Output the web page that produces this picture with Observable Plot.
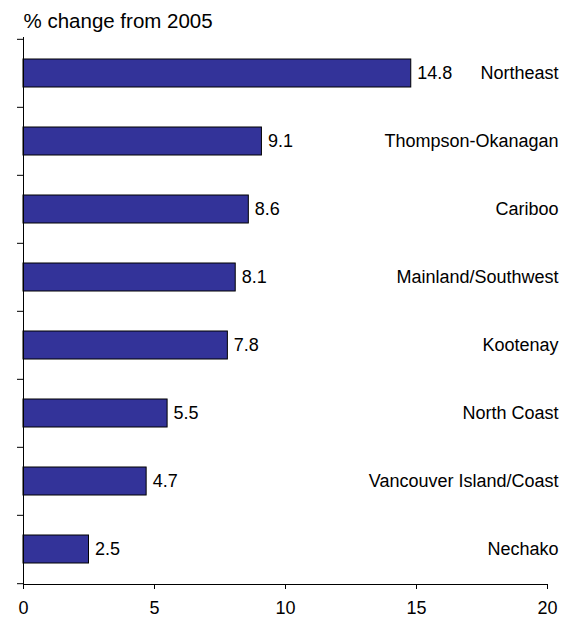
<!DOCTYPE html>
<html>
<head>
<meta charset="utf-8">
<script src="https://cdn.jsdelivr.net/npm/d3@7"></script>
<script src="https://cdn.jsdelivr.net/npm/@observablehq/plot@0.6"></script>
<style>
  html, body { margin: 0; padding: 0; background: #fff; }
</style>
</head>
<body>
<div id="chart"></div>
<script>
const regions = ["Northeast", "Thompson-Okanagan", "Cariboo", "Mainland/Southwest", "Kootenay", "North Coast", "Vancouver Island/Coast", "Nechako"];
const values = [14.8, 9.1, 8.6, 8.1, 7.8, 5.5, 4.7, 2.5];
const xTicks = [0, 5, 10, 15, 20];
const titleText = "% change from 2005";

const data = regions.map((r, i) => ({region: r, value: values[i]}));

const W = 568, H = 620, mTop = 37, mBottom = 36, mLeft = 23, mRight = 21;
const step = (H - mTop - mBottom) / regions.length;

const chart = Plot.plot({
  width: W,
  height: H,
  marginTop: mTop,
  marginBottom: mBottom,
  marginLeft: mLeft,
  marginRight: mRight,
  style: {fontFamily: "'Liberation Sans', Arial, sans-serif", fontSize: "18px", color: "#000", background: "#fff"},
  x: {domain: [0, 20], ticks: xTicks, label: null},
  y: {domain: regions, padding: 0, label: null},
  marks: [
    Plot.barX(data, {x: "value", y: "region", fill: "#333399", stroke: "#000", strokeWidth: 1, insetTop: 20, insetBottom: 20}),
    Plot.text(data, {x: "value", y: "region", text: d => d.value.toFixed(1), textAnchor: "start", dx: 6, fill: "#000", fontSize: 18}),
    Plot.text(data, {y: "region", text: "region", frameAnchor: "right", textAnchor: "end", dx: 11, fill: "#000", fontSize: 18}),
    Plot.frame({anchor: "left", stroke: "#000"}),
    Plot.frame({anchor: "bottom", stroke: "#000"}),
    Plot.axisY({tickSize: 6, tickFormat: () => "", dy: -step / 2, stroke: "#000", label: null}),
    Plot.axisY([regions[regions.length - 1]], {tickSize: 6, tickFormat: () => "", dy: step / 2, stroke: "#000", label: null}),
    Plot.axisX({ticks: xTicks, tickSize: 5, tickPadding: 12, fontSize: 18, stroke: "#000", fill: "#000", label: null}),
    Plot.text([titleText], {frameAnchor: "top-left", text: d => d, textAnchor: "start", lineAnchor: "bottom", dy: -10, fontSize: 20.5, fill: "#000"})
  ]
});
document.getElementById("chart").appendChild(chart);
</script>
</body>
</html>
